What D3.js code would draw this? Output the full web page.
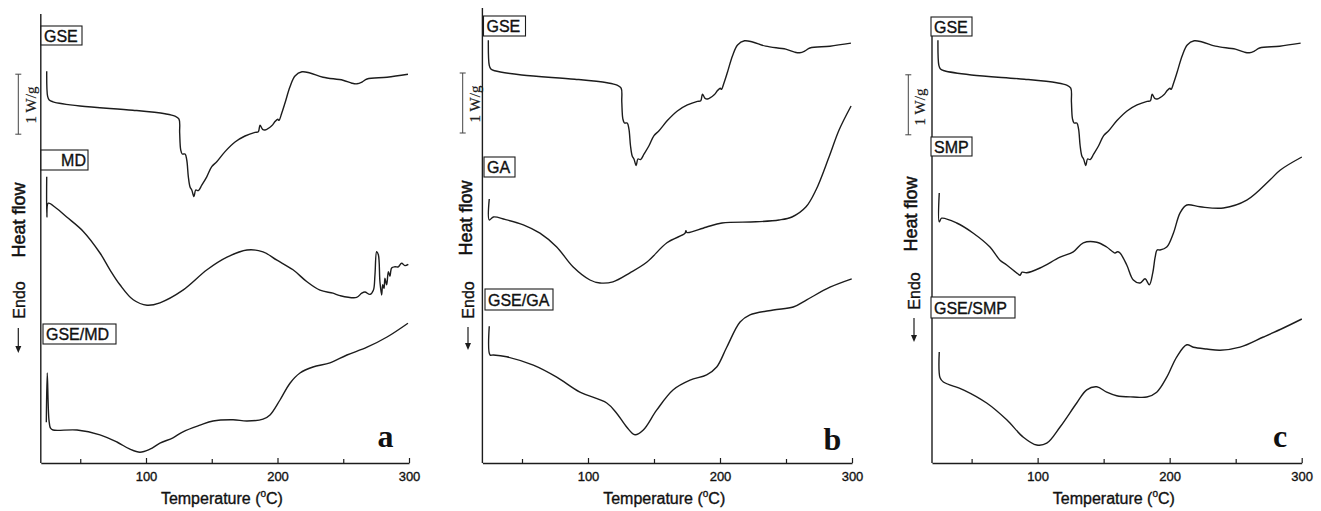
<!DOCTYPE html>
<html>
<head>
<meta charset="utf-8">
<script src="https://cdn.jsdelivr.net/npm/d3@7"></script>
<style>
  body { margin: 0; background: #fff; }
  svg { display: block; font-family: Arial, "Liberation Sans", sans-serif; }
  /* the scanned figure has slightly heavy type, a hairline stroke fakes that */
  svg text { stroke: #111; stroke-width: 0.35px; }
</style>
</head>
<body>
<div id="chart"></div>
<script>
// DSC thermograms, heat flow (W/g, stacked) vs temperature (°C)
// each point is [temperature, heat flow]

const gse = [
  [24.5,6.53],[25.2,6.11],[26.4,6.05],[29.3,6.02],[49.8,5.95],[90,5.88],[114.4,5.82],[122,5.78],
  [125.1,5.73],[125.6,5.5],[126.4,5.22],[127.6,5.15],[129.7,5.15],[131,5.05],[132.2,4.77],[133.5,4.6],
  [134.8,4.55],[136.5,4.44],[137.8,4.55],[139.8,4.54],[142.4,4.63],[146.2,4.77],[150,4.94],[153.8,5.02],
  [160.1,5.19],[167.7,5.35],[175.3,5.45],[182.9,5.51],[185.4,5.52],[186.7,5.63],[188.7,5.56],[190.5,5.55],
  [195.6,5.62],[198.1,5.69],[200.2,5.73],[201.1,5.71],[203.2,5.83],[205.7,6.0],[209.5,6.27],[213.3,6.45],
  [218.6,6.52],[224.7,6.5],[234.6,6.43],[249.8,6.38],[256.6,6.33],[260.4,6.32],[264.3,6.35],[268.1,6.4],
  [283.3,6.43],[299.2,6.48]
];

const md = [
  [24.5,4.77],[24.6,4.1],[25.7,4.33],[31.6,4.25],[39.7,4.1],[52.3,3.86],[65,3.5],[72.6,3.22],[80.2,2.97],
  [90.3,2.72],[100.8,2.63],[110.6,2.67],[128.1,2.88],[146.4,3.22],[161.6,3.43],[176.8,3.55],[189,3.52],
  [199.6,3.38],[211.8,3.22],[222.4,3.02],[232.3,2.88],[242.2,2.83],[247.5,2.79],[260.2,2.76],[264,2.83],
  [266.5,2.85],[270.3,2.81],[272.9,2.88],[274.1,3.13],[275.4,3.52],[276.7,3.47],[277.9,3.02],[279.2,2.8],
  [280,2.97],[281,2.91],[281.7,3.08],[283,2.97],[284.3,3.19],[285.5,3.11],[286.8,3.25],[289.3,3.27],
  [291.9,3.27],[294.4,3.33],[296.9,3.29],[299.5,3.31]
];

const gseMd = [
  [24.2,0.68],[24.9,1.5],[26.2,0.72],[27.4,0.58],[29.3,0.55],[47.5,0.55],[65,0.47],[77.9,0.35],[87.8,0.23],
  [95.4,0.18],[103,0.23],[110.6,0.33],[120.5,0.42],[128.1,0.52],[141.1,0.63],[151,0.7],[166.2,0.72],
  [176.8,0.7],[189,0.73],[194.3,0.8],[201.9,1.05],[209.5,1.33],[217.1,1.5],[227,1.6],[239.9,1.67],
  [252.8,1.8],[268.1,1.93],[283.3,2.1],[299.2,2.33]
];

const ga = [
  [25.2,4.4],[25.2,4.05],[28.3,4.1],[37.1,4.06],[51,3.97],[63.6,3.83],[76.3,3.6],[88.6,3.27],[101.5,3.05],
  [109.1,3.0],[118.9,3.02],[131.8,3.17],[144.7,3.35],[159.8,3.67],[173.5,3.83],[174.2,3.87],[175,3.84],
  [189.4,3.93],[201.5,4.0],[227.3,4.02],[244.7,4.05],[254.5,4.1],[265.2,4.27],[272.7,4.55],[282.6,5.1],
  [290.2,5.55],[299.3,5.95]
];

const gseGa = [
  [25.2,2.28],[25.8,1.8],[28.3,1.8],[38.4,1.77],[58.6,1.63],[76.3,1.43],[93.9,1.18],[114.2,1.0],[121.7,0.83],
  [129.3,0.6],[135.6,0.47],[141.9,0.55],[152,0.88],[164.6,1.22],[177.3,1.38],[189.9,1.47],[197.5,1.6],
  [205.1,1.93],[215.2,2.35],[222.7,2.47],[240.4,2.55],[255.5,2.6],[265.7,2.72],[283.3,2.93],[299.8,3.07]
];

const smp = [
  [25.5,4.5],[25.5,4.02],[27.3,4.08],[38.7,4.0],[51.3,3.83],[63.9,3.6],[71.5,3.38],[76.6,3.3],[85.2,3.15],
  [86.7,3.13],[88.2,3.18],[91.7,3.17],[101.8,3.25],[117,3.43],[127,3.52],[134.6,3.67],[144.8,3.68],
  [152.3,3.6],[158.6,3.5],[160.4,3.52],[162.4,3.5],[167.5,3.3],[172.5,3.05],[177.6,3.0],[181.4,3.07],
  [184.6,2.97],[187.2,3.17],[189,3.43],[190.5,3.55],[192.7,3.55],[197.8,3.6],[202.8,3.83],[207.9,4.17],
  [213,4.3],[223,4.27],[240.7,4.25],[258.4,4.38],[276.1,4.72],[283.6,4.88],[300.1,5.1]
];

const gseSmp = [
  [25.5,1.85],[26.1,1.42],[28.6,1.35],[43.7,1.22],[61.4,1.0],[76.6,0.72],[89.2,0.43],[99.3,0.3],[106.9,0.33],
  [117,0.6],[129.6,1.0],[137.2,1.22],[144.8,1.27],[152.3,1.18],[159.9,1.12],[172.5,1.1],[182.7,1.1],
  [190.2,1.18],[197.8,1.43],[205.4,1.77],[213,1.97],[218,1.93],[228.1,1.9],[238.2,1.88],[253.3,1.93],
  [271,2.1],[286.1,2.25],[300.1,2.4]
];

const sampleLabels = [["GSE", "MD", "GSE/MD"], ["GSE", "GA", "GSE/GA"], ["GSE", "SMP", "GSE/SMP"]];
const panelLetters = ["a", "b", "c"];
const majorTicks = [100, 200, 300];
const minorTicks = [50, 150, 250];
const tempDomain = [20, 300];
const heatDomain = [0, 7.5];

// layout for each panel (pixels)
const panels = [
  { left: 40.8, right: 409, top: 14, gseShift: 0, curves: [md, gseMd],
    boxes: [[41,26,41,19,'start'], [41,150,47,20,'end'], [43,324,73,20,'start']],
    bar: { x: 18.3, base: 5.48, tx: 31, ty: 105 },
    heat: [19, 220], endo: [19, 300], arrow: [18.3, 328, 353], letter: [385.5, 447] },
  { left: 482.4, right: 852, top: 8, gseShift: 0.517, curves: [ga, gseGa],
    boxes: [[483.5,16,42,20,'start'], [484,157,31,20,'start'], [485,289,68,21,'start']],
    bar: { x: 462.7, base: 5.5, tx: 475, ty: 104 },
    heat: [466, 218], endo: [468, 300], arrow: [468, 327, 350], letter: [832.5, 450] },
  { left: 932, right: 1301.7, top: 17, gseShift: 0.517, curves: [smp, gseSmp],
    boxes: [[931,17,41,19,'start'], [931,137,41,19,'start'], [931,297,84,21,'start']],
    bar: { x: 908.3, base: 5.47, tx: 920, ty: 107 },
    heat: [911, 214], endo: [914, 291], arrow: [914, 318, 342], letter: [1280, 447] }
];

const W = 1321, H = 511, axisY = 463;
const ink = '#1c1c1c';

const svg = d3.select('#chart').append('svg')
  .attr('width', W)
  .attr('height', H);

panels.forEach(drawPanel);

function drawPanel(p, i) {
  const x = d3.scaleLinear(tempDomain, [p.left, p.right]);
  const y = d3.scaleLinear(heatDomain, [axisY, axisY - 450]);
  const g = svg.append('g');

  // curves first, so the label boxes sit on top
  const line = d3.line()
    .x(d => x(d[0]))
    .y(d => y(d[1]))
    .curve(d3.curveCatmullRom.alpha(0.5));

  const series = [gse.map(d => [d[0], d[1] + p.gseShift]), ...p.curves];
  g.selectAll('path.curve')
    .data(series)
    .join('path')
    .classed('curve', true)
    .attr('d', line)
    .attr('fill', 'none')
    .attr('stroke', ink)
    .attr('stroke-width', 1.4)
    .attr('stroke-linejoin', 'round');

  // left axis is just a plain line
  g.append('line')
    .attr('x1', p.left).attr('x2', p.left)
    .attr('y1', p.top).attr('y2', axisY)
    .attr('stroke', ink).attr('stroke-width', 1.4);

  // bottom axis, ticks point up into the plot
  const ax = g.append('g')
    .attr('transform', `translate(0,${axisY})`)
    .call(d3.axisBottom(x)
      .tickValues([...minorTicks, ...majorTicks])
      .tickSizeInner(-4)
      .tickSizeOuter(0)
      .tickPadding(9)
      .tickFormat(d => majorTicks.includes(d) ? d : ''));
  ax.select('.domain').attr('stroke', ink).attr('stroke-width', 1.4);
  ax.selectAll('.tick line').attr('stroke', ink).attr('stroke-width', 1.2)
    .filter(d => majorTicks.includes(d)).attr('y2', -5);
  ax.selectAll('.tick text')
    .attr('font-size', 13)
    .attr('font-family', 'Arial, "Liberation Sans", sans-serif')
    .attr('fill', '#111');

  const xt = g.append('text')
    .attr('x', (p.left + p.right) / 2 - 3)
    .attr('y', 504)
    .attr('text-anchor', 'middle')
    .attr('font-size', 16)
    .attr('fill', '#111')
    .text('Temperature (');
  xt.append('tspan').attr('font-size', 10).attr('dy', -7).text('o');
  xt.append('tspan').attr('dy', 7).text('C)');

  // sample label boxes
  p.boxes.forEach((b, k) => {
    g.append('rect')
      .attr('x', b[0]).attr('y', b[1]).attr('width', b[2]).attr('height', b[3])
      .attr('fill', '#fff').attr('stroke', ink).attr('stroke-width', 1.1);
    g.append('text')
      .attr('x', b[4] === 'end' ? b[0] + b[2] - 2 : b[0] + 3)
      .attr('y', b[1] + b[3] / 2 + 6)
      .attr('text-anchor', b[4])
      .attr('font-size', 16)
      .attr('fill', '#111')
      .text(sampleLabels[i][k]);
  });

  // 1 W/g scale bar
  const y0 = y(p.bar.base), y1 = y(p.bar.base + 1);
  g.append('path')
    .attr('d', `M${p.bar.x},${y0}V${y1}M${p.bar.x - 3},${y0}H${p.bar.x + 3}M${p.bar.x - 3},${y1}H${p.bar.x + 3}`)
    .attr('stroke', '#444').attr('stroke-width', 1).attr('fill', 'none');
  g.append('text')
    .attr('transform', `translate(${p.bar.tx},${p.bar.ty}) rotate(-90)`)
    .attr('text-anchor', 'middle')
    .attr('dominant-baseline', 'central')
    .attr('font-family', '"Liberation Serif", "Times New Roman", serif')
    .attr('font-size', 15)
    .attr('fill', '#222')
    .style('stroke-width', '0.2px')
    .text('1 W/g');

  // Heat flow / Endo with the arrow
  g.append('text')
    .attr('transform', `translate(${p.heat[0]},${p.heat[1]}) rotate(-90)`)
    .attr('text-anchor', 'middle')
    .attr('dominant-baseline', 'central')
    .attr('font-size', 18)
    .attr('fill', '#111')
    .style('stroke-width', '0.5px')
    .text('Heat flow');
  g.append('text')
    .attr('transform', `translate(${p.endo[0]},${p.endo[1]}) rotate(-90)`)
    .attr('text-anchor', 'middle')
    .attr('dominant-baseline', 'central')
    .attr('font-size', 16)
    .attr('fill', '#111')
    .text('Endo');
  const [axx, ay0, ay1] = p.arrow;
  g.append('path')
    .attr('d', `M${axx},${ay0}V${ay1 - 4}`)
    .attr('stroke', ink).attr('stroke-width', 1.2);
  g.append('path')
    .attr('d', `M${axx - 3},${ay1 - 7}L${axx},${ay1}L${axx + 3},${ay1 - 7}Z`)
    .attr('fill', ink);

  g.append('text')
    .attr('x', p.letter[0])
    .attr('y', p.letter[1])
    .attr('text-anchor', 'middle')
    .attr('font-family', '"Liberation Serif", "Times New Roman", serif')
    .attr('font-weight', 'bold')
    .attr('font-size', 32)
    .attr('fill', '#111')
    .style('stroke-width', '0px')
    .text(panelLetters[i]);
}
</script>
</body>
</html>
